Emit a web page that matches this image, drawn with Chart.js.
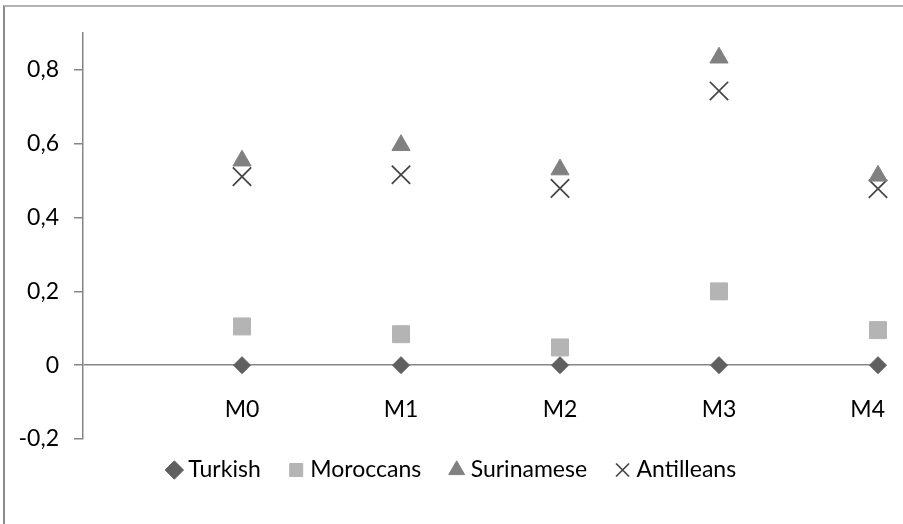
<!DOCTYPE html>
<html>
<head>
<meta charset="utf-8">
<script src="https://cdn.jsdelivr.net/npm/chart.js@4.4.1/dist/chart.umd.min.js"></script>
<style>
  html, body { margin: 0; padding: 0; background: #fff; }
  #wrap { position: relative; width: 903px; height: 524px; }
  #frame { position: absolute; left: 3px; top: 5px; right: 0; bottom: 0;
           border-left: 2px solid #8c8c8c; border-top: 2px solid #b4b4b4; pointer-events: none; }
</style>
</head>
<body>
<div id="wrap">
  <canvas id="chart" width="903" height="524"></canvas>
  <div id="frame"></div>
</div>
<script>
// categories and values
const categories = ['M0', 'M1', 'M2', 'M3', 'M4'];
const turkish = [0, 0, 0, 0, 0];
const moroccans = [0.105, 0.084, 0.048, 0.200, 0.095];
const surinamese = [0.554, 0.596, 0.530, 0.833, 0.513];
const antilleans = [0.511, 0.516, 0.479, 0.743, 0.478];
const yTicks = [-0.2, 0, 0.2, 0.4, 0.6, 0.8];

// category i sits at x = i + 1, the y axis is at x = 0
function points(values) {
    return values.map((v, i) => ({ x: i + 1, y: v }));
}

const font = { family: "Lato, sans-serif", size: 23 };
const axisColor = '#868686';

// category labels sit just under the zero line, kept inside the plot on the right
const categoryLabels = {
    id: 'categoryLabels',
    afterDraw: function (chart) {
        var c = chart.ctx, xs = chart.scales.x, ys = chart.scales.y;
        var y = ys.getPixelForValue(0) + 44;
        c.save();
        c.font = font.size + 'px ' + font.family;
        c.fillStyle = '#000';
        c.textAlign = 'center';
        c.textBaseline = 'middle';
        categories.forEach(function (label, i) {
            var w = c.measureText(label).width;
            var x = Math.min(xs.getPixelForValue(i + 1), chart.chartArea.right + 7 - w / 2);
            c.fillText(label, x, y);
        });
        c.restore();
    }
};

// move the legend to where it sits in the picture
const legendNudge = {
    id: 'legendNudge',
    afterLayout: function (chart) {
        var l = chart.legend;
        l.left += 15; l.right += 15;
        l.top -= 13.5; l.bottom -= 13.5;
    }
};

var ctx = document.getElementById('chart').getContext('2d');
var chart = new Chart(ctx, {
    type: 'scatter',
    data: {
        datasets: [{
            label: 'Turkish',
            data: points(turkish),
            pointStyle: 'rectRot',
            pointRadius: 8.5,
            backgroundColor: '#5f5f5f',
            borderColor: '#5f5f5f',
            borderWidth: 1,
            clip: false
        }, {
            label: 'Moroccans',
            data: points(moroccans),
            pointStyle: 'rect',
            pointRadius: 12,
            backgroundColor: '#b4b4b4',
            borderColor: '#b4b4b4',
            borderWidth: 1,
            clip: false
        }, {
            label: 'Surinamese',
            data: points(surinamese),
            pointStyle: 'triangle',
            pointRadius: 10.5,
            backgroundColor: '#808080',
            borderColor: '#808080',
            borderWidth: 1,
            clip: false
        }, {
            label: 'Antilleans',
            data: points(antilleans),
            pointStyle: 'crossRot',
            pointRadius: 13,
            backgroundColor: '#454545',
            borderColor: '#454545',
            borderWidth: 1.75,
            clip: false
        }]
    },
    options: {
        responsive: false,
        devicePixelRatio: 1,
        animation: false,
        layout: {
            padding: { left: 0, right: 25, top: 33, bottom: 19 }
        },
        plugins: {
            tooltip: { enabled: false },
            legend: {
                display: true,
                position: 'bottom',
                labels: {
                    usePointStyle: true,
                    boxWidth: 5,
                    boxHeight: 13,
                    padding: 33,
                    color: '#000',
                    font: font
                }
            }
        },
        scales: {
            x: {
                type: 'linear',
                min: 0,
                max: 5,
                position: 'bottom',
                grid: { display: false, drawTicks: false },
                border: { display: false },
                ticks: { display: false },
                afterFit: function (scale) {
                    scale.height = 0;
                }
            },
            y: {
                min: -0.2,
                max: 0.9,
                afterBuildTicks: function (scale) {
                    scale.ticks = yTicks.map(v => ({ value: v }));
                },
                afterFit: function (scale) {
                    scale.width = 83;
                },
                grid: {
                    drawOnChartArea: true,
                    drawTicks: true,
                    tickLength: 9,
                    // only the zero line runs across the plot
                    color: function (c) { return c.tick && c.tick.value === 0 ? axisColor : 'rgba(0,0,0,0)'; },
                    tickColor: axisColor,
                    lineWidth: 1.5
                },
                border: { color: axisColor, width: 1.5 },
                ticks: {
                    padding: 15,
                    color: '#000',
                    font: font,
                    callback: function (v) { return String(v).replace('.', ','); }
                }
            }
        }
    },
    plugins: [categoryLabels, legendNudge]
});
</script>
</body>
</html>
